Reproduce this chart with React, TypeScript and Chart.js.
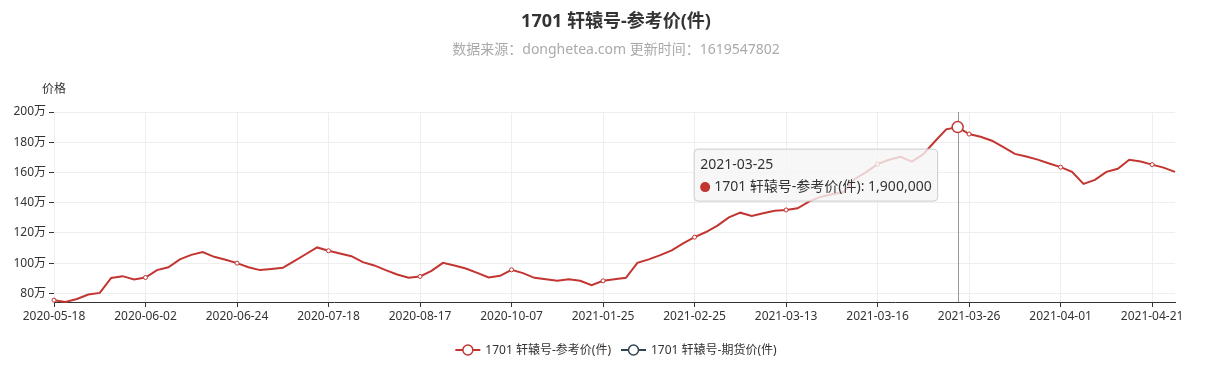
import React, { useEffect, useRef } from 'react';
import { Chart, registerables } from 'chart.js';

Chart.register(...registerables);

const TITLE = '1701 轩辕号-参考价(件)';
const SUBTITLE = '数据来源：donghetea.com 更新时间：1619547802';
const Y_NAME = '价格';
const SERIES_NAMES = ['1701 轩辕号-参考价(件)', '1701 轩辕号-期货价(件)'];
const SERIES_COLORS = ['#c23531', '#2f4554'];

const DATES = [
  '2020-05-18', '2020-05-20', '2020-05-21', '2020-05-23', '2020-05-25', '2020-05-27', '2020-05-28', '2020-05-30',
  '2020-06-02', '2020-06-04', '2020-06-07', '2020-06-10', '2020-06-12', '2020-06-15', '2020-06-17', '2020-06-20',
  '2020-06-24', '2020-06-27', '2020-06-30', '2020-07-03', '2020-07-06', '2020-07-09', '2020-07-12', '2020-07-15',
  '2020-07-18', '2020-07-22', '2020-07-25', '2020-07-29', '2020-08-01', '2020-08-05', '2020-08-09', '2020-08-13',
  '2020-08-17', '2020-08-23', '2020-08-29', '2020-09-04', '2020-09-10', '2020-09-17', '2020-09-23', '2020-09-30',
  '2020-10-07', '2020-10-20', '2020-11-03', '2020-11-16', '2020-11-30', '2020-12-14', '2020-12-28', '2021-01-11',
  '2021-01-25', '2021-01-29', '2021-02-02', '2021-02-06', '2021-02-10', '2021-02-14', '2021-02-18', '2021-02-22',
  '2021-02-25', '2021-02-27', '2021-03-01', '2021-03-03', '2021-03-05', '2021-03-07', '2021-03-09', '2021-03-11',
  '2021-03-13', '2021-03-13', '2021-03-14', '2021-03-14', '2021-03-15', '2021-03-15', '2021-03-15', '2021-03-16',
  '2021-03-16', '2021-03-17', '2021-03-18', '2021-03-19', '2021-03-20', '2021-03-22', '2021-03-24', '2021-03-25',
  '2021-03-26', '2021-03-26', '2021-03-27', '2021-03-28', '2021-03-29', '2021-03-30', '2021-03-31', '2021-03-31',
  '2021-04-01', '2021-04-03', '2021-04-05', '2021-04-08', '2021-04-10', '2021-04-13', '2021-04-15', '2021-04-18',
  '2021-04-21', '2021-04-23', '2021-04-26',
];

const REF_PRICES = [
  755000, 743000, 763000, 792000, 803000, 902000, 914000, 892000,
  905000, 954000, 973000, 1025000, 1055000, 1073000, 1042000, 1022000,
  1000000, 973000, 954000, 962000, 969000, 1014000, 1059000, 1104000,
  1082000, 1064000, 1046000, 1007000, 985000, 954000, 925000, 903000,
  912000, 949000, 1002000, 985000, 965000, 936000, 905000, 916000,
  956000, 934000, 903000, 894000, 883000, 894000, 883000, 854000,
  883000, 894000, 903000, 1002000, 1025000, 1053000, 1084000, 1131000,
  1172000, 1206000, 1248000, 1303000, 1334000, 1312000, 1330000, 1347000,
  1352000, 1363000, 1407000, 1438000, 1456000, 1469000, 1557000, 1602000,
  1655000, 1684000, 1703000, 1672000, 1721000, 1805000, 1885000, 1900000,
  1854000, 1836000, 1810000, 1768000, 1723000, 1705000, 1685000, 1659000,
  1635000, 1604000, 1524000, 1551000, 1604000, 1624000, 1684000, 1672000,
  1652000, 1632000, 1604000,
];

const FUTURES_PRICES: (number | null)[] = [];

const Y_TICKS = [800000, 1000000, 1200000, 1400000, 1600000, 1800000, 2000000];

const LABEL_INTERVAL = 8;
const HIGHLIGHT_INDEX = 79;
const Y_MAX = 2000000;

const FONT = '"Noto Sans", "Noto Sans CJK SC", sans-serif';
const CENTER_X = 616;

const decorPlugin = {
  id: 'decor',
  beforeDatasetsDraw(chart: any) {
    const ctx = chart.ctx;
    const pt = chart.getDatasetMeta(0).data[HIGHLIGHT_INDEX];
    if (!pt) return;
    const { top, bottom } = chart.chartArea;
    const x = Math.round(pt.x) + 0.5;
    ctx.save();
    ctx.strokeStyle = '#999';
    ctx.lineWidth = 1;
    ctx.beginPath();
    ctx.moveTo(x, top);
    ctx.lineTo(x, bottom);
    ctx.stroke();
    ctx.restore();
  },
  afterDraw(chart: any) {
    const ctx = chart.ctx;
    const area = chart.chartArea;
    ctx.save();
    ctx.textAlign = 'center';
    ctx.textBaseline = 'middle';
    // title
    ctx.fillStyle = '#333';
    ctx.font = `bold 18px ${FONT}`;
    ctx.fillText(TITLE, CENTER_X, 22);
    // subtitle
    ctx.fillStyle = '#aaa';
    ctx.font = `14px ${FONT}`;
    ctx.fillText(SUBTITLE, CENTER_X, 50);
    // y axis name
    ctx.fillStyle = '#333';
    ctx.font = `12px ${FONT}`;
    ctx.fillText(Y_NAME, area.left, area.top - 22);

    // legend
    ctx.font = `12px ${FONT}`;
    const iconW = 25;
    const gapText = 5;
    const gapItem = 10;
    const widths = chart.data.datasets.map((d: any) => ctx.measureText(d.label).width);
    const total = widths.reduce((a: number, w: number) => a + iconW + gapText + w, 0) + gapItem * (widths.length - 1);
    let lx = CENTER_X - total / 2;
    const ly = 350;
    chart.data.datasets.forEach((d: any, i: number) => {
      const color = d.borderColor;
      ctx.strokeStyle = color;
      ctx.lineWidth = 2;
      ctx.beginPath();
      ctx.moveTo(lx, ly);
      ctx.lineTo(lx + iconW, ly);
      ctx.stroke();
      ctx.beginPath();
      ctx.arc(lx + iconW / 2, ly, 5, 0, Math.PI * 2);
      ctx.fillStyle = '#fff';
      ctx.fill();
      ctx.lineWidth = 1.5;
      ctx.stroke();
      ctx.fillStyle = '#333';
      ctx.textAlign = 'left';
      ctx.fillText(d.label, lx + iconW + gapText, ly + 1);
      lx += iconW + gapText + widths[i] + gapItem;
    });

    // tooltip
    const pt = chart.getDatasetMeta(0).data[HIGHLIGHT_INDEX];
    if (pt) {
      const ds = chart.data.datasets[0];
      const titleText = chart.data.labels[HIGHLIGHT_INDEX];
      const value = ds.data[HIGHLIGHT_INDEX];
      const bodyText = `${ds.label}: ${Number(value).toLocaleString('en-US')}`;
      ctx.font = `14px ${FONT}`;
      const tw = ctx.measureText(titleText).width;
      const bw = ctx.measureText(bodyText).width + 14;
      const pad = 6;
      const w = Math.max(tw, bw) + pad * 2;
      const h = 52;
      const right = pt.x - 20;
      const left = right - w;
      const top = pt.y + 22;
      ctx.beginPath();
      const r = 4;
      ctx.moveTo(left + r, top);
      ctx.arcTo(left + w, top, left + w, top + h, r);
      ctx.arcTo(left + w, top + h, left, top + h, r);
      ctx.arcTo(left, top + h, left, top, r);
      ctx.arcTo(left, top, left + w, top, r);
      ctx.closePath();
      ctx.fillStyle = 'rgba(245,245,245,0.8)';
      ctx.fill();
      ctx.strokeStyle = '#ccc';
      ctx.lineWidth = 1;
      ctx.stroke();
      ctx.textAlign = 'left';
      ctx.fillStyle = '#333';
      ctx.fillText(titleText, left + pad, top + 16);
      ctx.beginPath();
      ctx.arc(left + pad + 5, top + 38, 5, 0, Math.PI * 2);
      ctx.fillStyle = ds.borderColor;
      ctx.fill();
      ctx.fillStyle = '#333';
      ctx.fillText(bodyText, left + pad + 14, top + 38);
    }
    ctx.restore();
  },
};

export default function App() {
  const canvasRef = useRef<HTMLCanvasElement | null>(null);

  useEffect(() => {
    document.body.style.margin = '0';
    const canvas = canvasRef.current;
    if (!canvas) return;
    const yMin = Math.min(...REF_PRICES);
    const chart = new Chart(canvas, {
      type: 'line',
      data: {
        labels: DATES,
        datasets: [
          {
            label: SERIES_NAMES[0],
            data: REF_PRICES,
            borderColor: SERIES_COLORS[0],
            backgroundColor: SERIES_COLORS[0],
            borderWidth: 2,
            tension: 0,
            clip: false as any,
            pointBackgroundColor: '#fff',
            pointBorderColor: SERIES_COLORS[0],
            pointBorderWidth: (c: any) => (c.dataIndex === HIGHLIGHT_INDEX ? 1.5 : 1),
            pointRadius: (c: any) =>
              c.dataIndex === HIGHLIGHT_INDEX ? 5.5 : c.dataIndex % LABEL_INTERVAL === 0 ? 2 : 0,
          },
          {
            label: SERIES_NAMES[1],
            data: FUTURES_PRICES,
            borderColor: SERIES_COLORS[1],
            backgroundColor: SERIES_COLORS[1],
            borderWidth: 2,
            pointRadius: 0,
          },
        ],
      },
      options: {
        responsive: false,
        animation: false,
        events: [],
        layout: { padding: { top: 112, right: 34, left: 0, bottom: 0 } },
        plugins: {
          legend: { display: false },
          title: { display: false },
          tooltip: { enabled: false },
        },
        scales: {
          x: {
            type: 'category',
            offset: false,
            grid: {
              color: (c: any) => (c.index % LABEL_INTERVAL === 0 ? '#eee' : 'rgba(0,0,0,0)'),
              tickColor: (c: any) => (c.index % LABEL_INTERVAL === 0 ? '#333' : 'rgba(0,0,0,0)'),
              tickLength: 5,
            },
            border: { color: '#333', width: 1 },
            ticks: {
              autoSkip: false,
              maxRotation: 0,
              minRotation: 0,
              padding: 2,
              color: '#333',
              font: { family: FONT, size: 12 },
              callback: (_v: any, i: number) => (i % LABEL_INTERVAL === 0 ? DATES[i] : ''),
            },
            afterFit: (s: any) => {
              s.height = 63;
            },
          },
          y: {
            min: yMin,
            max: Y_MAX,
            grid: { color: '#eee', tickColor: '#333', tickLength: 5 },
            border: { display: false },
            afterBuildTicks: (s: any) => {
              s.ticks = Y_TICKS.map((v) => ({ value: v }));
            },
            ticks: {
              padding: 3,
              color: '#333',
              font: { family: FONT, size: 12 },
              callback: (v: any) => `${Math.round(Number(v) / 10000)}万`,
            },
            afterFit: (s: any) => {
              s.width = 54;
            },
          },
        },
      } as any,
      plugins: [decorPlugin],
    });
    return () => chart.destroy();
  }, []);

  return (
    <div style={{ width: 1209, height: 365 }}>
      <canvas ref={canvasRef} width={1209} height={365} style={{ display: 'block' }} />
    </div>
  );
}
